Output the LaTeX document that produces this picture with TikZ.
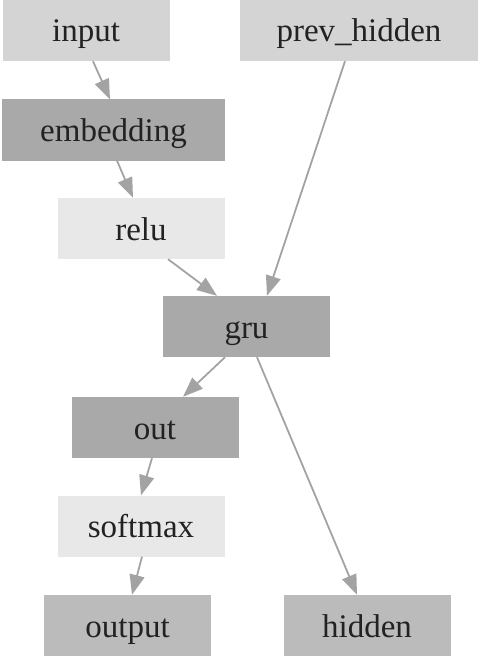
\documentclass[tikz,border=0pt]{standalone}
\usepackage{fontspec}
\setmainfont{Liberation Serif}
\usetikzlibrary{arrows.meta}
\definecolor{boxlight}{HTML}{D4D4D4}
\definecolor{boxdark}{HTML}{A9A9A9}
\definecolor{boxpale}{HTML}{E8E8E8}
\definecolor{boxmid}{HTML}{BBBBBB}
\definecolor{edgegray}{HTML}{A3A3A3}
\definecolor{textgray}{HTML}{222222}
\begin{document}
\begin{tikzpicture}[
    x=1pt, y=-1pt,
    layer/.style={rectangle, inner sep=0pt, minimum width=167pt, minimum height=61pt, text height=23pt, text depth=0pt, text=textgray, font=\fontsize{33}{38}\selectfont},
    flow/.style={-{Triangle[length=20pt, width=15pt]}, draw=edgegray, fill=edgegray, line width=1.8pt}
]
    \useasboundingbox (0,0) rectangle (480,658);

    % Layers
    \node[layer, fill=boxlight] (input) at (86,30.5) {input};
    \node[layer, fill=boxlight, minimum width=238pt] (prevhidden) at (359,30.5) {prev\_hidden};
    \node[layer, fill=boxdark, minimum width=223pt] (embedding) at (113.5,130) {embedding};
    \node[layer, fill=boxpale] (relu) at (141,228.5) {relu};
    \node[layer, fill=boxdark] (gru) at (246.5,326.5) {gru};
    \node[layer, fill=boxdark] (out) at (155,427.5) {out};
    \node[layer, fill=boxpale] (softmax) at (141,526) {softmax};
    \node[layer, fill=boxmid] (output) at (127.5,625.5) {output};
    \node[layer, fill=boxmid] (hidden) at (367,625.5) {hidden};

    % Edges
    \draw[flow] ([xshift=7pt]input.south) -- ([xshift=-3.5pt]embedding.north);
    \draw[flow] ([xshift=3.5pt]embedding.south) -- ([xshift=-8pt]relu.north);
    \draw[flow] ([xshift=27pt]relu.south) -- ([xshift=-29.5pt]gru.north);
    \draw[flow] ([xshift=-14pt]prevhidden.south) -- ([xshift=20.5pt]gru.north);
    \draw[flow] ([xshift=-21.5pt]gru.south) -- ([xshift=28pt]out.north);
    \draw[flow] ([xshift=10.5pt]gru.south) -- ([xshift=-10pt]hidden.north);
    \draw[flow] ([xshift=-3pt]out.south) -- (softmax.north);
    \draw[flow] ([xshift=1pt]softmax.south) -- ([xshift=4.5pt]output.north);

\end{tikzpicture}
\end{document}
